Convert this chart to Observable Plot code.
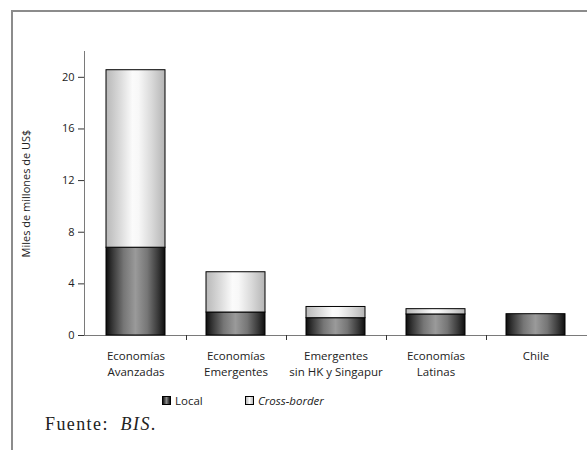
<!DOCTYPE html>
<html>
<head>
<meta charset="utf-8">
<script src="https://cdn.jsdelivr.net/npm/d3@7"></script>
<script src="https://cdn.jsdelivr.net/npm/@observablehq/plot@0.6"></script>
<style>
  html, body { margin: 0; padding: 0; background: #fff; }
  #wrap { position: relative; width: 587px; height: 450px; overflow: hidden; font-family: "Open Sans", sans-serif; }
  #box { position: absolute; left: 11px; top: 10px; width: 600px; height: 460px;
         border-left: 2px solid #8c8c8c; border-top: 2px solid #8c8c8c; }
  #chart { position: absolute; left: 0; top: 0; }
  #legend { position: absolute; top: 393px; left: 0; font-size: 11.5px; color: #222; }
  #legend .item { position: absolute; white-space: nowrap; display: flex; align-items: center; }
  #legend .sw { width: 7px; height: 7px; border: 1px solid #000; margin-right: 4px; }
  #source { position: absolute; left: 45px; top: 414px; font-family: "Liberation Serif", serif;
            font-size: 18px; letter-spacing: 1.4px; color: #222; white-space: nowrap; }
</style>
</head>
<body>
<div id="wrap">
  <div id="box"></div>
  <div id="chart"></div>
  <div id="legend"></div>
  <div id="source">Fuente:&nbsp; <i>BIS</i>.</div>
</div>
<script>
// Categories, tick labels and series values (miles de millones de US$)
const categories = ["Economías Avanzadas", "Economías Emergentes", "Emergentes sin HK y Singapur", "Economías Latinas", "Chile"];
const tickLabels = ["Economías\nAvanzadas", "Economías\nEmergentes", "Emergentes\nsin HK y Singapur", "Economías\nLatinas", "Chile"];
const seriesNames = ["Local", "Cross-border"];
const localValues = [6.8, 1.78, 1.34, 1.63, 1.65];
const crossBorderValues = [13.75, 3.12, 0.87, 0.41, 0];
const yTicks = [0, 4, 8, 12, 16, 20];

const rows = [];
categories.forEach((c, i) => {
  rows.push({category: c, series: seriesNames[0], value: localValues[i]});
  rows.push({category: c, series: seriesNames[1], value: crossBorderValues[i]});
});
const labelOf = new Map(categories.map((c, i) => [c, tickLabels[i]]));

const gradients = {
  gLocal: [[0, "#0e0e0e"], [0.12, "#3a3a3a"], [0.3, "#767676"], [0.5, "#9a9a9a"], [0.7, "#767676"], [0.88, "#3a3a3a"], [1, "#0e0e0e"]],
  gCross: [[0, "#b8b8b8"], [0.25, "#dcdcdc"], [0.45, "#fbfbfb"], [0.55, "#f8f8f8"], [0.78, "#d8d8d8"], [1, "#b4b4b4"]]
};

// Gradient definitions, axis lines and the ticks between categories
function decorations(index, scales, values, dims) {
  const g = d3.create("svg:g");
  const defs = g.append("defs");
  for (const [id, stops] of Object.entries(gradients)) {
    const lg = defs.append("linearGradient").attr("id", id).attr("x1", 0).attr("x2", 1).attr("y1", 0).attr("y2", 0);
    for (const [o, c] of stops) lg.append("stop").attr("offset", o).attr("stop-color", c);
  }
  const {marginLeft, marginRight, marginTop, marginBottom, width, height} = dims;
  const bottom = height - marginBottom;
  const x = scales.x;
  const half = (x.step() - x.bandwidth()) / 2;
  // y axis line
  g.append("line").attr("x1", marginLeft + 0.5).attr("x2", marginLeft + 0.5)
    .attr("y1", marginTop).attr("y2", bottom).attr("stroke", "#7a7a7a");
  // x axis line
  g.append("line").attr("x1", marginLeft).attr("x2", width - marginRight)
    .attr("y1", bottom + 0.5).attr("y2", bottom + 0.5).attr("stroke", "#7a7a7a");
  // category boundary ticks
  categories.slice(1).forEach(c => {
    const px = Math.round(x(c) - half) + 0.5;
    g.append("line").attr("x1", px).attr("x2", px).attr("y1", bottom).attr("y2", bottom + 5).attr("stroke", "#333");
  });
  return g.node();
}

const chart = Plot.plot({
  width: 587,
  height: 450,
  marginLeft: 84,
  marginRight: 0,
  marginTop: 51,
  marginBottom: 115,
  style: {fontFamily: "'Open Sans', sans-serif", color: "#222", background: "transparent"},
  x: {domain: categories, paddingInner: 0.41, paddingOuter: 0.205, align: 0.5},
  y: {domain: [0, 22]},
  color: {domain: seriesNames, range: ["url(#gLocal)", "url(#gCross)"]},
  marks: [
    decorations,
    Plot.barY(rows, {x: "category", y: "value", fill: "series", stroke: "#000", strokeWidth: 1, order: seriesNames}),
    Plot.axisY({ticks: yTicks, tickSize: 6, tickPadding: 4, fontSize: 11, stroke: "#333",
                label: "Miles de millones de US$", labelAnchor: "center", labelArrow: "none", labelOffset: 62}),
    Plot.axisX({tickSize: 0, tickPadding: 13, fontSize: 11.5, lineHeight: 1.4, label: null,
                tickFormat: d => labelOf.get(d)})
  ]
});
document.getElementById("chart").appendChild(chart);

// Legend
const legend = d3.select("#legend");
const legendItems = [
  {name: seriesNames[0], left: 162, bg: "linear-gradient(to right, #111, #8a8a8a, #111)", italic: false},
  {name: seriesNames[1], left: 245, bg: "linear-gradient(to right, #bbb, #fafafa, #bbb)", italic: true}
];
legendItems.forEach(it => {
  const d = legend.append("div").attr("class", "item").style("left", it.left + "px");
  d.append("div").attr("class", "sw").style("background", it.bg);
  d.append("span").style("font-style", it.italic ? "italic" : "normal").text(it.name);
});
</script>
</body>
</html>
